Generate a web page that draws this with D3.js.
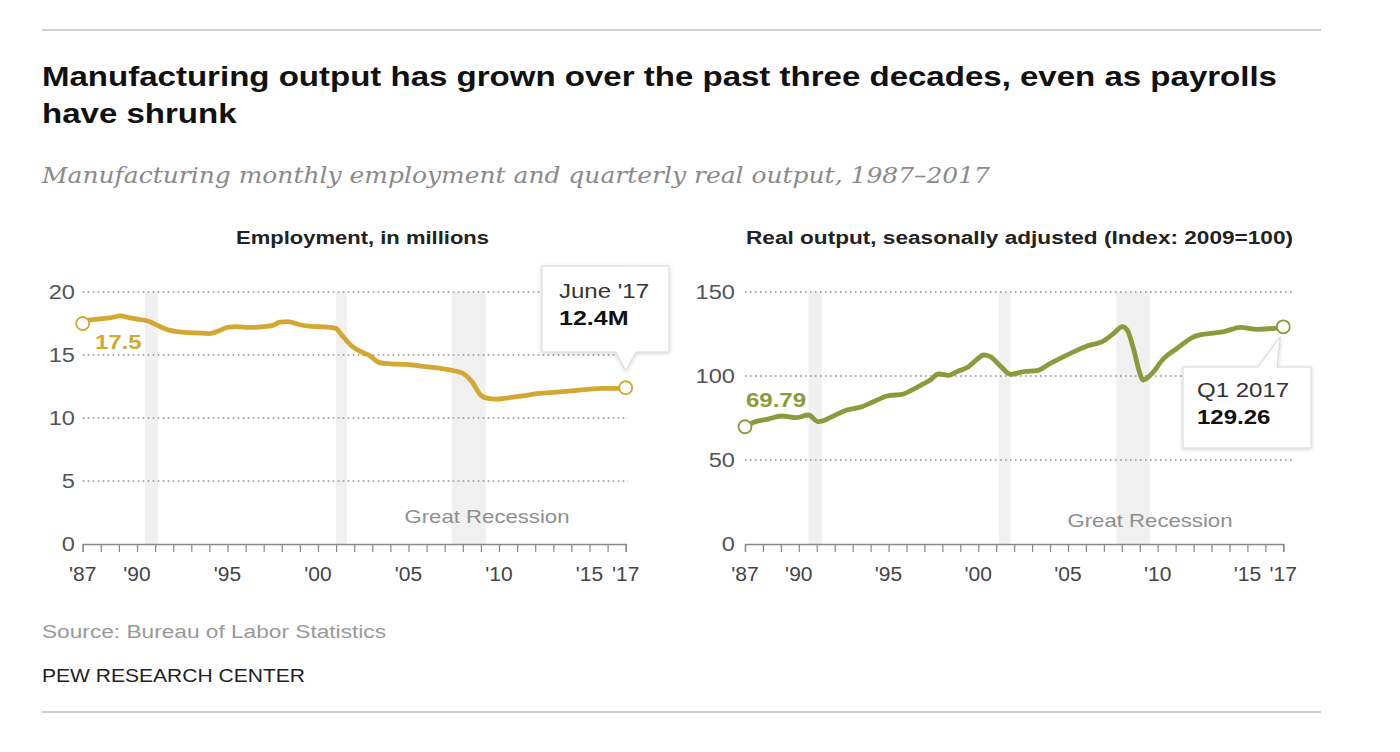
<!DOCTYPE html>
<html>
<head>
<meta charset="utf-8">
<script src="https://cdn.jsdelivr.net/npm/d3@7"></script>
<style>
  html, body { margin: 0; padding: 0; background: #fff; }
  svg { display: block; }
  text { font-family: "Liberation Sans", Arial, sans-serif; }
</style>
</head>
<body>
<svg id="chart" width="1400" height="752"></svg>
<script>
// ---------- DATA ----------
const titleLines = ["Manufacturing output has grown over the past three decades, even as payrolls", "have shrunk"];
const subtitle = "Manufacturing monthly employment and quarterly real output, 1987\u20132017";
const sourceText = "Source: Bureau of Labor Statistics";
const brandText = "PEW RESEARCH CENTER";

const xTickYears = [1987, 1990, 1995, 2000, 2005, 2010, 2015, 2017];
const xTickLabels = ["'87", "'90", "'95", "'00", "'05", "'10", "'15", "'17"];

// Employment, in millions (monthly, sampled)
const empYears = [1987.0, 1987.3, 1987.8, 1988.5, 1989.1, 1989.6, 1990.0, 1990.6, 1991.0, 1991.5,
  1992.0, 1992.6, 1993.3, 1994.0, 1994.5, 1995.0, 1995.5, 1996.0, 1996.5, 1997.0,
  1997.5, 1997.9, 1998.35, 1999.0, 1999.5, 2000.0, 2000.7, 2001.0, 2001.3, 2001.8,
  2002.3, 2002.8, 2003.4, 2004.0, 2004.9, 2005.8, 2006.7, 2007.5, 2008.0, 2008.5,
  2009.0, 2009.4, 2009.8, 2010.5, 2011.3, 2012.2, 2013.2, 2014.0, 2015.0, 2015.8,
  2016.5, 2017.0];
const empValues = [17.5, 17.75, 17.85, 17.95, 18.1, 17.95, 17.85, 17.7, 17.45, 17.1,
  16.9, 16.8, 16.75, 16.7, 16.9, 17.2, 17.25, 17.2, 17.2, 17.25,
  17.35, 17.6, 17.65, 17.4, 17.3, 17.25, 17.2, 17.1, 16.6, 15.8,
  15.3, 15.0, 14.4, 14.3, 14.25, 14.1, 13.95, 13.75, 13.55, 12.9,
  11.8, 11.55, 11.5, 11.6, 11.75, 11.95, 12.05, 12.15, 12.3, 12.35,
  12.35, 12.4];

// Real output index (quarterly, 2009=100)
const outYears = [1987.0, 1987.56, 1988.21, 1989.05, 1989.89, 1990.53, 1991.09, 1991.93, 1992.68, 1993.42,
  1994.16, 1994.91, 1995.83, 1996.58, 1997.32, 1997.79, 1998.35, 1998.81, 1999.46, 1999.93,
  2000.3, 2000.67, 2001.23, 2001.79, 2002.53, 2003.28, 2004.02, 2005.14, 2006.07, 2006.91,
  2007.55, 2008.02, 2008.3, 2008.67, 2008.95, 2009.19, 2009.6, 2010.34, 2011.09, 2012.02,
  2012.95, 2013.69, 2014.62, 2015.55, 2016.48, 2017.0];
const outValues = [69.79, 72.8, 74.2, 76.2, 75.2, 76.8, 72.8, 76.2, 79.8, 81.4,
  84.7, 88.1, 89.3, 93.3, 97.6, 101.2, 100.4, 102.6, 105.5, 109.9,
  112.5, 111.5, 106.0, 101.0, 102.6, 103.2, 107.5, 113.5, 117.9, 120.4,
  125.4, 129.4, 127.4, 115.5, 103.6, 97.6, 100.6, 110.5, 116.5, 123.4,
  125.4, 126.4, 129.0, 127.8, 128.4, 129.26];

const empRecessions = [[1990.44, 1991.16], [2001.0, 2001.59], [2007.39, 2009.27]];
const outRecessions = [[1990.54, 1991.28], [2001.14, 2001.79], [2007.7, 2009.56]];

const empTicks = [0, 5, 10, 15, 20];
const outTicks = [0, 50, 100, 150];

// ---------- DRAW ----------
const svg = d3.select("#chart");
const GOLD = "#d3a832";
const GREEN = "#8b9a3b";

function stretch(sel, f) {
  sel.each(function () {
    const w = this.getComputedTextLength();
    d3.select(this).attr("textLength", w * f).attr("lengthAdjust", "spacingAndGlyphs");
  });
  return sel;
}
function fit(sel, width) {
  sel.attr("textLength", width).attr("lengthAdjust", "spacingAndGlyphs");
  return sel;
}

svg.append("line").attr("x1", 42).attr("x2", 1321).attr("y1", 30).attr("y2", 30)
  .attr("stroke", "#d0d0d0").attr("stroke-width", 2);
svg.append("line").attr("x1", 42).attr("x2", 1321).attr("y1", 712).attr("y2", 712)
  .attr("stroke", "#cfcfcf").attr("stroke-width", 2);

const t1 = svg.append("text").attr("x", 42).attr("y", 86)
  .attr("font-size", 28).attr("font-weight", "bold").attr("fill", "#111").text(titleLines[0]);
const titleFactor = 1235 / t1.node().getComputedTextLength();
stretch(t1, titleFactor);
stretch(svg.append("text").attr("x", 42).attr("y", 123)
  .attr("font-size", 28).attr("font-weight", "bold").attr("fill", "#111").text(titleLines[1]), titleFactor);

fit(svg.append("text").attr("x", 42).attr("y", 183)
  .style("font-family", "'DejaVu Serif', Georgia, serif")
  .attr("font-style", "italic").attr("font-size", 23).attr("fill", "#8a8a8a").text(subtitle), 948);

fit(svg.append("text").attr("x", 42).attr("y", 638).attr("font-size", 18).attr("fill", "#999").text(sourceText), 344);
fit(svg.append("text").attr("x", 42).attr("y", 682).attr("font-size", 19).attr("fill", "#222").text(brandText), 263);

function panel(opts) {
  const g = svg.append("g");
  const x = d3.scaleLinear().domain([1987, 2017]).range(opts.xRange);
  const y = d3.scaleLinear().domain(opts.yDomain).range([544, 292]);

  g.selectAll("rect.rec").data(opts.recessions).enter().append("rect")
    .attr("x", d => x(d[0])).attr("width", d => x(d[1]) - x(d[0]))
    .attr("y", y(opts.yDomain[1])).attr("height", y(0) - y(opts.yDomain[1]))
    .attr("fill", "#f0f0f0");

  g.selectAll("line.grid").data(opts.yTicks.filter(d => d > 0)).enter().append("line")
    .attr("x1", opts.xRange[0]).attr("x2", opts.gridEnd)
    .attr("y1", d => y(d)).attr("y2", d => y(d))
    .attr("stroke", "#8f8f8f").attr("stroke-width", 1.6).attr("stroke-dasharray", "1.6,3.4");

  stretch(g.selectAll("text.ylab").data(opts.yTicks).enter().append("text")
    .attr("x", opts.yLabelX).attr("y", d => y(d) + 7).attr("text-anchor", "end")
    .attr("font-size", 20).attr("fill", "#555").text(d => d), 1.18);

  const years = d3.range(1987, 2018);
  const axis = d3.axisBottom(x).tickValues(years).tickSize(8).tickFormat("");
  const ag = g.append("g").attr("transform", `translate(0,${y(0)})`).call(axis);
  ag.select(".domain").attr("stroke", "#888").attr("stroke-width", 1.4);
  ag.selectAll(".tick line").attr("stroke", "#888").attr("stroke-width", 1.2);

  stretch(g.selectAll("text.xlab").data(xTickYears).enter().append("text")
    .attr("x", (d) => x(d)).attr("y", 581).attr("text-anchor", "middle")
    .attr("font-size", 20).attr("fill", "#444")
    .text((d, i) => xTickLabels[i]), 1.05);

  fit(g.append("text").attr("x", opts.recLabelX).attr("y", opts.recLabelY).attr("text-anchor", "middle")
    .attr("font-size", 19).attr("fill", "#8f8f8f").text("Great Recession"), 165);

  fit(g.append("text").attr("x", opts.headX).attr("y", 244).attr("text-anchor", "middle")
    .attr("font-size", 18).attr("font-weight", "bold").attr("fill", "#222").text(opts.head), opts.headW);

  const data = opts.years.map((yr, i) => ({ yr, v: opts.values[i] }));
  const line = d3.line().x(d => x(d.yr)).y(d => y(d.v)).curve(d3.curveMonotoneX);
  g.append("path").datum(data).attr("d", line).attr("fill", "none")
    .attr("stroke", opts.color).attr("stroke-width", 4.8).attr("stroke-linejoin", "round");

  const first = data[0], last = data[data.length - 1];
  [first, last].forEach(d => {
    g.append("circle").attr("cx", x(d.yr)).attr("cy", y(d.v)).attr("r", 6.5)
      .attr("fill", "#fff").attr("stroke", opts.color).attr("stroke-width", 1.8);
  });

  stretch(g.append("text").attr("x", opts.startLabel[0]).attr("y", opts.startLabel[1])
    .attr("font-size", 20).attr("font-weight", "bold").attr("fill", opts.color)
    .text(opts.startText), 1.2);

  return { x, y, g, last };
}

const left = panel({
  xRange: [82.7, 625.7], gridEnd: 628, yDomain: [0, 20], yTicks: empTicks, yLabelX: 75,
  recessions: empRecessions, years: empYears, values: empValues, color: GOLD,
  head: "Employment, in millions", headX: 362.5, headW: 253,
  recLabelX: 487, recLabelY: 523, startLabel: [95, 349], startText: "17.5"
});
const right = panel({
  xRange: [745, 1283.3], gridEnd: 1293, yDomain: [0, 150], yTicks: outTicks, yLabelX: 735,
  recessions: outRecessions, years: outYears, values: outValues, color: GREEN,
  head: "Real output, seasonally adjusted (Index: 2009=100)", headX: 1019.5, headW: 547,
  recLabelX: 1150, recLabelY: 527, startLabel: [746, 407], startText: "69.79"
});

// callouts
const shadow = svg.append("defs").append("filter").attr("id", "sh")
  .attr("x", "-20%").attr("y", "-20%").attr("width", "140%").attr("height", "140%");
shadow.append("feDropShadow").attr("dx", 0).attr("dy", 1).attr("stdDeviation", 2)
  .attr("flood-color", "#000").attr("flood-opacity", 0.18);

function calloutDown(bx, by, bw, bh, tipX, tipY, baseL, baseR) {
  const p = d3.path();
  p.moveTo(bx, by); p.lineTo(bx + bw, by); p.lineTo(bx + bw, by + bh);
  p.lineTo(baseR, by + bh); p.lineTo(tipX, tipY); p.lineTo(baseL, by + bh);
  p.lineTo(bx, by + bh); p.closePath();
  return p.toString();
}
function calloutUp(bx, by, bw, bh, tipX, tipY, baseL, baseR) {
  const p = d3.path();
  p.moveTo(bx, by); p.lineTo(baseL, by); p.lineTo(tipX, tipY); p.lineTo(baseR, by);
  p.lineTo(bx + bw, by); p.lineTo(bx + bw, by + bh); p.lineTo(bx, by + bh); p.closePath();
  return p.toString();
}

const lTip = [left.x(left.last.yr), left.y(left.last.v) - 17];
svg.append("path").attr("d", calloutDown(542, 266, 127, 86, lTip[0], lTip[1], 616, 636))
  .attr("fill", "#fff").attr("stroke", "#d6d6d6").attr("stroke-width", 1).attr("filter", "url(#sh)");
stretch(svg.append("text").attr("x", 559).attr("y", 298).attr("font-size", 20).attr("fill", "#333").text("June '17"), 1.2);
stretch(svg.append("text").attr("x", 559).attr("y", 325).attr("font-size", 20).attr("font-weight", "bold").attr("fill", "#111").text("12.4M"), 1.25);

const rTip = [right.x(right.last.yr) - 3, right.y(right.last.v) + 10];
svg.append("path").attr("d", calloutUp(1183, 367, 128, 81, rTip[0], rTip[1], 1258, 1277))
  .attr("fill", "#fff").attr("stroke", "#d6d6d6").attr("stroke-width", 1).attr("filter", "url(#sh)");
stretch(svg.append("text").attr("x", 1197).attr("y", 397).attr("font-size", 20).attr("fill", "#333").text("Q1 2017"), 1.2);
stretch(svg.append("text").attr("x", 1197).attr("y", 424).attr("font-size", 20).attr("font-weight", "bold").attr("fill", "#111").text("129.26"), 1.2);
</script>
</body>
</html>
